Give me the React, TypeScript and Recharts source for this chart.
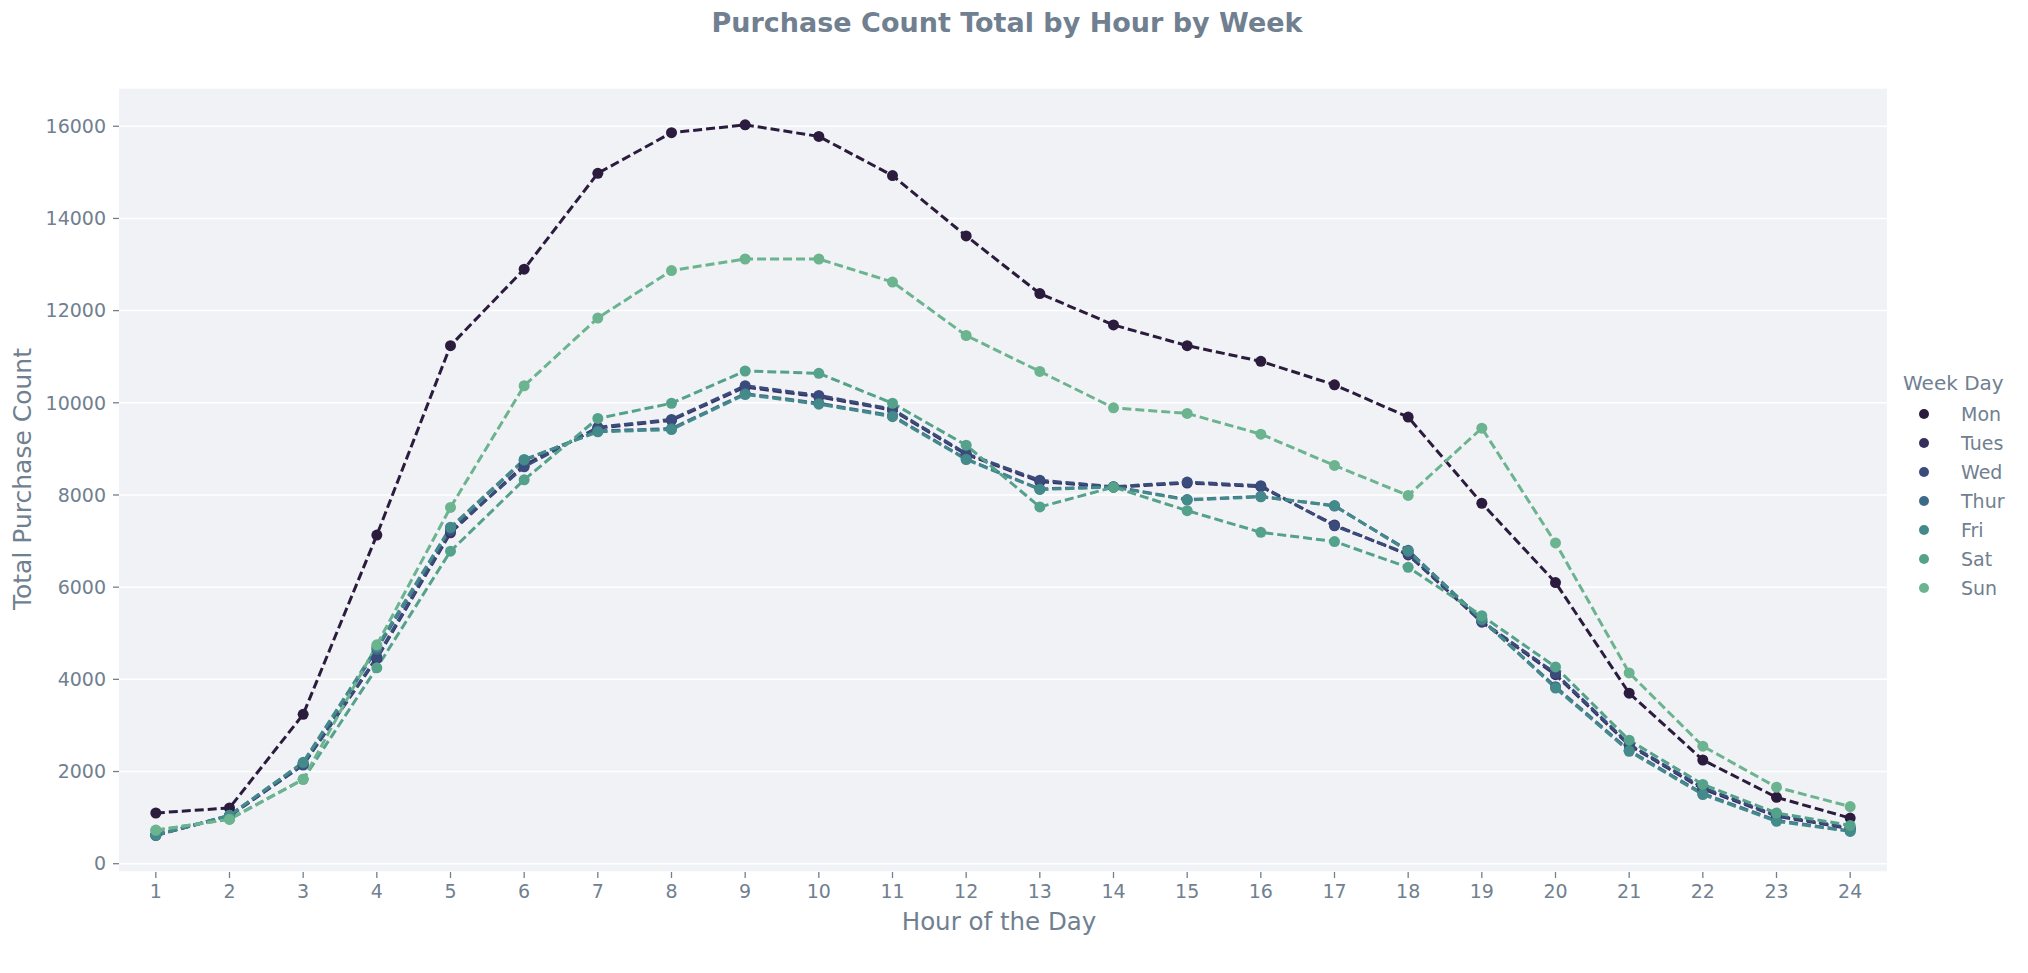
import React from 'react';
import { LineChart, Line, XAxis, YAxis, CartesianGrid } from 'recharts';

const hours = [1, 2, 3, 4, 5, 6, 7, 8, 9, 10, 11, 12, 13, 14, 15, 16, 17, 18, 19, 20, 21, 22, 23, 24];

const mon = [1100, 1210, 3240, 7130, 11240, 12900, 14980, 15860, 16030, 15780, 14930, 13620, 12370, 11690, 11240, 10900, 10390, 9690, 7820, 6100, 3700, 2250, 1440, 990];
const tues = [630, 1030, 2150, 4450, 7180, 8650, 9450, 9620, 10340, 10130, 9840, 8880, 8290, 8170, 8260, 8180, 7350, 6700, 5240, 4100, 2570, 1620, 1030, 760];
const wed = [620, 1040, 2140, 4480, 7220, 8610, 9470, 9640, 10370, 10160, 9860, 8900, 8320, 8180, 8280, 8200, 7330, 6720, 5260, 4130, 2590, 1650, 1050, 780];
const thur = [610, 1050, 2180, 4650, 7280, 8750, 9390, 9440, 10200, 9990, 9720, 8780, 8130, 8180, 7900, 7970, 7760, 6800, 5290, 3840, 2460, 1520, 940, 710];
const fri = [620, 1050, 2200, 4700, 7300, 8770, 9370, 9420, 10180, 9970, 9700, 8770, 8120, 8170, 7890, 7960, 7770, 6780, 5300, 3810, 2440, 1500, 920, 700];
const sat = [720, 970, 1830, 4250, 6780, 8330, 9660, 9990, 10690, 10640, 9990, 9080, 7740, 8170, 7660, 7190, 6990, 6430, 5380, 4270, 2680, 1720, 1100, 830];
const sun = [730, 960, 1830, 4750, 7730, 10370, 11840, 12870, 13120, 13120, 12620, 11460, 10680, 9890, 9770, 9320, 8640, 7990, 9450, 6960, 4140, 2550, 1660, 1240];

const yTicks = [0, 2000, 4000, 6000, 8000, 10000, 12000, 14000, 16000];

const series = [
  { key: 'Mon', values: mon, color: '#2b1c3e' },
  { key: 'Tues', values: tues, color: '#382f5f' },
  { key: 'Wed', values: wed, color: '#3a4c7b' },
  { key: 'Thur', values: thur, color: '#3e6a8a' },
  { key: 'Fri', values: fri, color: '#448a8b' },
  { key: 'Sat', values: sat, color: '#55a28b' },
  { key: 'Sun', values: sun, color: '#6bb48f' },
];

const data = hours.map((h, i) => {
  const row: Record<string, number> = { hour: h };
  series.forEach((s) => {
    row[s.key] = s.values[i];
  });
  return row;
});

const TEXT = '#708090';
const FONT = '"DejaVu Sans", sans-serif';

export default function App() {
  return (
    <div style={{ position: 'absolute', left: 0, top: 0, width: 2028, height: 973, background: '#fff', fontFamily: FONT }}>
      <div style={{ position: 'absolute', left: 0, top: 0, width: 2014, height: 46, lineHeight: '46px', textAlign: 'center', color: TEXT, fontWeight: 'bold', fontSize: 27 }}>
        Purchase Count Total by Hour by Week
      </div>

      <LineChart width={2028} height={973} data={data} margin={{ top: 88, right: 141, bottom: 51, left: 0 }}>
        <CartesianGrid vertical={false} stroke="#ffffff" strokeWidth={1.5} fill="#f1f2f6" fillOpacity={1} />
        <XAxis
          dataKey="hour"
          type="number"
          domain={[0.5, 24.5]}
          ticks={hours}
          interval={0}
          height={50}
          axisLine={false}
          tickSize={6}
          tickMargin={7}
          tickLine={{ stroke: TEXT, strokeWidth: 1.3 }}
          tick={{ fill: TEXT, fontSize: 19, fontFamily: FONT }}
        />
        <YAxis
          type="number"
          domain={[-180, 16830]}
          ticks={yTicks}
          width={119}
          axisLine={false}
          tickSize={6}
          tickMargin={7}
          tickLine={{ stroke: TEXT, strokeWidth: 1.3 }}
          tick={{ fill: TEXT, fontSize: 19, fontFamily: FONT }}
        />
        {series.map((s) => (
          <Line
            key={s.key}
            dataKey={s.key}
            type="linear"
            stroke={s.color}
            strokeWidth={3}
            strokeDasharray="9 4"
            dot={{ r: 5.5, fill: s.color, stroke: 'none' }}
            activeDot={false}
            isAnimationActive={false}
          />
        ))}
      </LineChart>

      <div style={{ position: 'absolute', left: 799, top: 906, width: 400, height: 32, lineHeight: '32px', textAlign: 'center', color: TEXT, fontSize: 24.5 }}>
        Hour of the Day
      </div>
      <div style={{ position: 'absolute', left: 23 - 200, top: 479 - 16, width: 400, height: 32, lineHeight: '32px', textAlign: 'center', color: TEXT, fontSize: 25, transform: 'rotate(-90deg)' }}>
        Total Purchase Count
      </div>

      <div style={{ position: 'absolute', left: 1903, top: 383 - 14, height: 28, lineHeight: '28px', color: TEXT, fontSize: 20, whiteSpace: 'nowrap' }}>
        Week Day
      </div>
      {series.map((s, i) => (
        <div key={s.key} style={{ position: 'absolute', left: 1914, top: 414 + i * 29 - 14, height: 28, display: 'flex', alignItems: 'center' }}>
          <svg width={20} height={28}>
            <circle cx={10} cy={14} r={5} fill={s.color} />
          </svg>
          <span style={{ marginLeft: 27, color: TEXT, fontSize: 19, lineHeight: '28px' }}>{s.key}</span>
        </div>
      ))}
    </div>
  );
}
